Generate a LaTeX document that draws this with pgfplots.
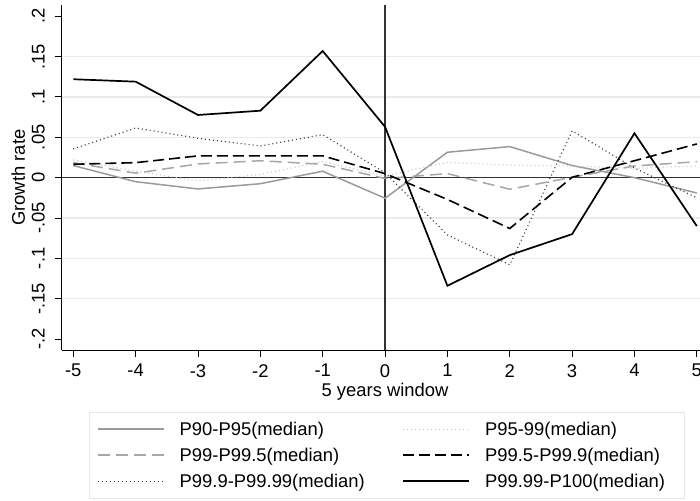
\documentclass[border=0pt]{standalone}
\usepackage{fontspec}
\setmainfont{Liberation Sans}
\usepackage{pgfplots}
\pgfplotsset{compat=1.18}
\definecolor{gridc}{HTML}{EAEAEA}
\definecolor{zeroc}{HTML}{333333}
\definecolor{legb}{HTML}{E6E6E6}
\definecolor{sA}{HTML}{9A9A9A}
\definecolor{sB}{HTML}{C4C4C4}
\definecolor{sC}{HTML}{A6A6A6}
\definecolor{sE}{HTML}{3A3A3A}
\begin{document}
\fontsize{9.2}{11}\selectfont
\begin{tikzpicture}
\begin{axis}[
  scale only axis, width=323.35pt, height=172.65pt,
  at={(0,0)}, anchor=south west,
  xmin=-5.186, xmax=5.186, ymin=-0.214, ymax=0.214,
  axis x line*=bottom, axis y line*=left,
  axis line style={-, black, line width=0.6pt},
  tick align=outside, major tick length=3.3pt,
  tick style={black, line width=0.5pt},
  xtick={-5,-4,-3,-2,-1,0,1,2,3,4,5},
  xticklabels={-5,-4,-3,-2,-1,0,1,2,3,4,5},
  ytick={-0.2,-0.15,-0.1,-0.05,0,0.05,0.1,0.15,0.2},
  yticklabels={-.2,-.15,-.1,-.05,0,.05,.1,.15,.2},
  xticklabel style={anchor=north, inner sep=0pt, font=\fontsize{9.2}{11}\selectfont},
  yticklabel style={rotate=90, anchor=south, inner sep=0pt, font=\fontsize{9.2}{11}\selectfont},
  xticklabel shift=3.5pt, yticklabel shift=5pt,
  xlabel={5 years window},
  xlabel style={at={([yshift=-22.85pt]axis description cs:0.5,0)}, anchor=base, inner sep=0pt, font=\fontsize{9.2}{11}\selectfont},
  ylabel={Growth rate},
  ylabel style={at={([xshift=-18.35pt]axis description cs:0,0.5)}, anchor=base, inner sep=0pt, font=\fontsize{9.2}{11}\selectfont},
  legend columns=2,
  legend image code/.code={\draw[#1] (0pt,0pt) -- (33pt,0pt);},
  legend style={at={(0.04268,-0.1778)}, anchor=north west, draw=legb, line width=0.5pt,
    inner xsep=3.7pt, inner ysep=2pt, font=\fontsize{9.2}{11}\selectfont,
    nodes={inner sep=0pt, text height=9.5pt, text depth=3.5pt},
    column sep=0pt, row sep=0pt,
    /tikz/every odd column/.append style={column sep=7.5pt},
    /tikz/column 2/.append style={nodes={text width=111.35pt, align=left}},
    /tikz/column 4/.append style={nodes={text width=96pt, align=left}}},
]
\pgfplotsinvokeforeach{-0.15,-0.1,-0.05,0.05,0.1,0.15}{
  \draw[gridc, line width=0.6pt] (axis cs:-5.186,#1) -- (axis cs:5.186,#1);
}
\draw[zeroc, line width=0.65pt] (axis cs:-5.186,0) -- (axis cs:5.186,0);
\draw[zeroc, line width=0.65pt] (axis cs:0,-0.214) -- (axis cs:0,0.214);

\addplot[sA, line width=0.75pt] coordinates {
(-5,0.015) (-4,-0.005) (-3,-0.014) (-2,-0.0075) (-1,0.008) (0,-0.0255)
(1,0.0315) (2,0.0385) (3,0.015) (4,0.0) (5,-0.019)};
\addlegendentry{P90-P95(median)}
\addplot[sB, line width=0.6pt, dash pattern=on 0.5pt off 1.5pt] coordinates {
(-5,0.022) (-4,0.008) (-3,-0.004) (-2,0.004) (-1,0.02) (0,0.002)
(1,0.019) (2,0.0155) (3,0.0145) (4,0.0115) (5,0.0145)};
\addlegendentry{P95-99(median)}
\addplot[sC, line width=0.75pt, dash pattern=on 6pt off 3pt] coordinates {
(-5,0.0186) (-4,0.0055) (-3,0.017) (-2,0.021) (-1,0.0166) (0,-0.001)
(1,0.005) (2,-0.0144) (3,0.0005) (4,0.0145) (5,0.0198)};
\addlegendentry{P99-P99.5(median)}
\addplot[black, line width=0.8pt, dash pattern=on 5.5pt off 2.5pt] coordinates {
(-5,0.0166) (-4,0.0186) (-3,0.027) (-2,0.027) (-1,0.027) (0,0.005)
(1,-0.027) (2,-0.063) (3,0.0005) (4,0.021) (5,0.0418)};
\addlegendentry{P99.5-P99.9(median)}
\addplot[sE, line width=0.6pt, dash pattern=on 0.5pt off 1.5pt] coordinates {
(-5,0.0356) (-4,0.0616) (-3,0.0488) (-2,0.0393) (-1,0.0533) (0,0.006)
(1,-0.071) (2,-0.108) (3,0.058) (4,0.012) (5,-0.025)};
\addlegendentry{P99.9-P99.99(median)}
\addplot[black, line width=0.85pt] coordinates {
(-5,0.122) (-4,0.119) (-3,0.0777) (-2,0.083) (-1,0.157) (0,0.063)
(1,-0.134) (2,-0.096) (3,-0.070) (4,0.055) (5,-0.060)};
\addlegendentry{P99.99-P100(median)}
\end{axis}
\pgfresetboundingbox
\path[use as bounding box] (-30.85pt,-74.85pt) rectangle (319.15pt,175.15pt);
\end{tikzpicture}
\end{document}
